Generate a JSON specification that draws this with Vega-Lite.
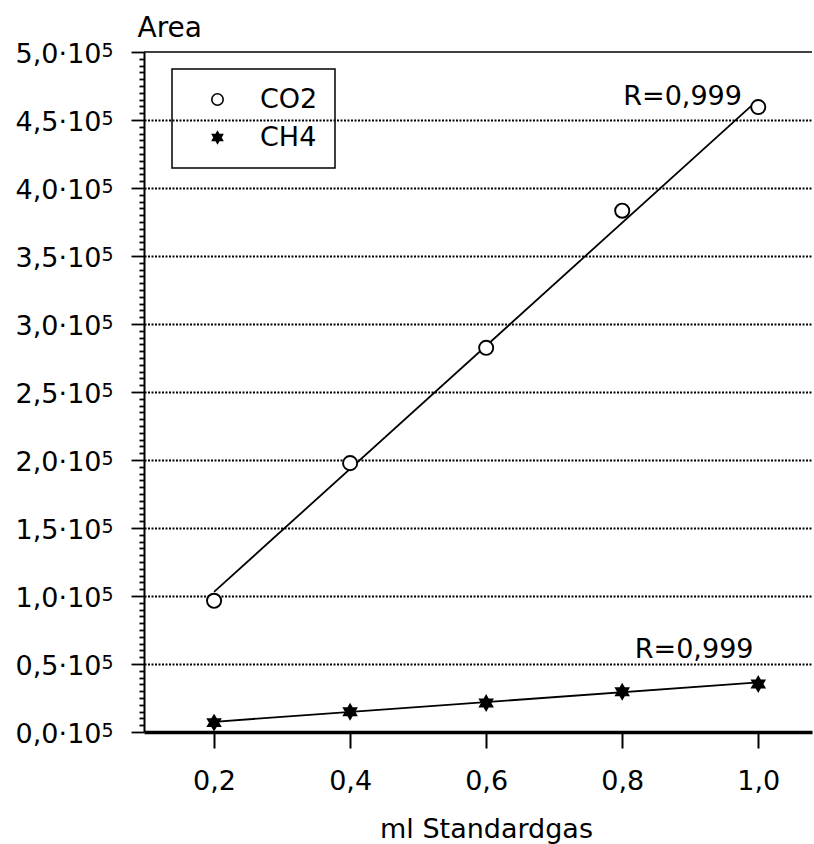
{
  "$schema": "https://vega.github.io/schema/vega-lite/v6.json",
  "width": 668,
  "height": 680,
  "autosize": {"type": "none"},
  "padding": {"left": 144, "top": 52, "right": 2, "bottom": 112},
  "background": "white",
  "config": {
    "font": "DejaVu Sans",
    "view": {"stroke": null},
    "axis": {"labelFont": "DejaVu Sans", "titleFont": "DejaVu Sans", "labelColor": "black", "titleColor": "black", "domainColor": "black", "tickColor": "black", "labelFontSize": 27, "titleFontSize": 27, "titleFontWeight": "normal"},
    "legend": {"labelFont": "DejaVu Sans", "labelFontSize": 27, "labelColor": "black", "strokeColor": "black", "strokeWidth": 1.5, "symbolStrokeColor": "black", "symbolStrokeWidth": 1.6}
  },
  "resolve": {"axis": {"y": "independent"}},
  "datasets": {
    "points": [
      {"series": "CO2", "x": 0.2, "y": 96500},
      {"series": "CO2", "x": 0.4, "y": 197700},
      {"series": "CO2", "x": 0.6, "y": 282500},
      {"series": "CO2", "x": 0.8, "y": 383300},
      {"series": "CO2", "x": 1.0, "y": 459500},
      {"series": "CH4", "x": 0.2, "y": 6900},
      {"series": "CH4", "x": 0.4, "y": 14900},
      {"series": "CH4", "x": 0.6, "y": 21300},
      {"series": "CH4", "x": 0.8, "y": 29600},
      {"series": "CH4", "x": 1.0, "y": 35300}
    ],
    "fits": [
      {"series": "CO2", "x": 0.2, "y": 103000},
      {"series": "CO2", "x": 1.0, "y": 465000},
      {"series": "CH4", "x": 0.2, "y": 7500},
      {"series": "CH4", "x": 1.0, "y": 36500}
    ],
    "notes": [
      {"label": "R=0,999", "x": 0.976, "y": 461000},
      {"label": "R=0,999", "x": 0.993, "y": 54400}
    ],
    "frame": [
      {"y": 500000}
    ]
  },
  "layer": [
    {
      "data": {"name": "fits"},
      "mark": {"type": "line", "color": "black", "strokeWidth": 1.8},
      "encoding": {
        "x": {
          "field": "x", "type": "quantitative",
          "scale": {"domain": [0.097, 1.079], "nice": false, "zero": false},
          "axis": {
            "values": [0.2, 0.4, 0.6, 0.8, 1.0],
            "labelExpr": "replace(format(datum.value, '.1f'), '.', ',')",
            "title": "ml Standardgas",
            "titleX": 342, "titleY": 105, "titleAlign": "center", "titleBaseline": "alphabetic",
            "grid": false,
            "domainWidth": 3.5,
            "tickSize": 16, "tickWidth": 2,
            "labelPadding": 20
          }
        },
        "y": {
          "field": "y", "type": "quantitative",
          "scale": {"domain": [0, 500000], "nice": false, "zero": true},
          "axis": {
            "orient": "left",
            "values": [0,5000,10000,15000,20000,25000,30000,35000,40000,45000,50000,55000,60000,65000,70000,75000,80000,85000,90000,95000,100000,105000,110000,115000,120000,125000,130000,135000,140000,145000,150000,155000,160000,165000,170000,175000,180000,185000,190000,195000,200000,205000,210000,215000,220000,225000,230000,235000,240000,245000,250000,255000,260000,265000,270000,275000,280000,285000,290000,295000,300000,305000,310000,315000,320000,325000,330000,335000,340000,345000,350000,355000,360000,365000,370000,375000,380000,385000,390000,395000,400000,405000,410000,415000,420000,425000,430000,435000,440000,445000,450000,455000,460000,465000,470000,475000,480000,485000,490000,495000,500000],
            "labelExpr": "datum.value % 50000 == 0 ? replace(format(datum.value / 100000, '.1f'), '.', ',') + '·10' : ''",
            "labelOverlap": false,
            "labelBound": false,
            "labelPadding": 30,
            "labelOffset": 2,
            "tickSize": {"condition": {"test": "datum.value % 50000 == 0", "value": 13}, "value": 5},
            "tickWidth": 1.8,
            "domainWidth": 2,
            "grid": true,
            "gridColor": "black",
            "gridDash": [2, 1.5],
            "gridWidth": 2,
            "gridOpacity": {"condition": {"test": "datum.value % 50000 == 0 && datum.value > 0 && datum.value < 500000", "value": 1}, "value": 0},
            "title": "Area",
            "titleFontSize": 28,
            "titleAngle": 0,
            "titleAlign": "left",
            "titleBaseline": "alphabetic",
            "titleX": -7,
            "titleY": -16
          }
        },
        "detail": {"field": "series"}
      }
    },
    {
      "data": {"name": "frame"},
      "mark": {"type": "rule", "color": "black", "strokeWidth": 1.5},
      "encoding": {
        "y": {
          "field": "y", "type": "quantitative",
          "axis": {
            "orient": "left",
            "values": [0, 50000, 100000, 150000, 200000, 250000, 300000, 350000, 400000, 450000, 500000],
            "labelExpr": "'5'",
            "labelFontSize": 19,
            "labelOverlap": false,
            "labelBound": false,
            "labelPadding": 31,
            "labelOffset": -2,
            "ticks": false,
            "tickSize": 0,
            "domain": false,
            "grid": false,
            "title": null
          }
        }
      }
    },
    {
      "data": {"name": "points"},
      "mark": {"type": "point", "strokeWidth": 1.9, "size": 200, "opacity": 1},
      "encoding": {
        "x": {"field": "x", "type": "quantitative"},
        "y": {"field": "y", "type": "quantitative", "axis": null},
        "shape": {
          "field": "series", "type": "nominal",
          "scale": {"domain": ["CO2", "CH4"], "range": ["circle", "M0,-1L0.289,-0.5L0.866,-0.5L0.577,0L0.866,0.5L0.289,0.5L0,1L-0.289,0.5L-0.866,0.5L-0.577,0L-0.866,-0.5L-0.289,-0.5Z"]},
          "legend": {
            "title": null,
            "orient": "none",
            "legendX": 28,
            "legendY": 17,
            "padding": 17,
            "strokeColor": "black",
            "labelOffset": 29,
            "symbolOffset": 15,
            "rowPadding": 10,
            "symbolSize": 130
          }
        },
        "fill": {
          "field": "series", "type": "nominal",
          "scale": {"domain": ["CO2", "CH4"], "range": ["white", "black"]},
          "legend": {
            "title": null,
            "orient": "none",
            "legendX": 28,
            "legendY": 17,
            "padding": 17,
            "strokeColor": "black",
            "labelOffset": 29,
            "symbolOffset": 15,
            "rowPadding": 10,
            "symbolSize": 130
          }
        },
        "stroke": {
          "field": "series", "type": "nominal",
          "scale": {"domain": ["CO2", "CH4"], "range": ["black", "black"]},
          "legend": {
            "title": null,
            "orient": "none",
            "legendX": 28,
            "legendY": 17,
            "padding": 17,
            "strokeColor": "black",
            "labelOffset": 29,
            "symbolOffset": 15,
            "rowPadding": 10,
            "symbolSize": 130
          }
        }
      }
    },
    {
      "data": {"name": "notes"},
      "mark": {"type": "text", "align": "right", "baseline": "alphabetic", "font": "DejaVu Sans", "fontSize": 27, "color": "black"},
      "encoding": {
        "x": {"field": "x", "type": "quantitative"},
        "y": {"field": "y", "type": "quantitative", "axis": null},
        "text": {"field": "label"}
      }
    }
  ]
}
